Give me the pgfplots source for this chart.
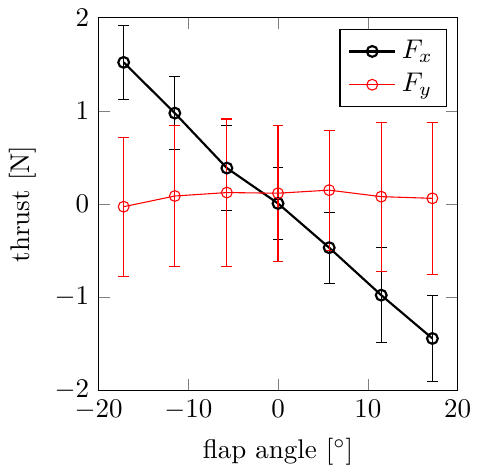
\documentclass[border=0pt]{standalone}
\usepackage{pgfplots}
\pgfplotsset{compat=1.18}
\begin{document}
\begin{tikzpicture}
\begin{axis}[
  scale only axis,
  width=133pt, height=138pt,
  xmin=-20, xmax=20, ymin=-2, ymax=2,
  xtick={-20,-10,0,10,20},
  ytick={-2,-1,0,1,2},
  xlabel={flap angle [$^\circ$]},
  ylabel={thrust [N]},
  legend pos=north east,
  legend cell align=left,
]
\addplot+[black, thick, mark=o, mark options={black, solid},
  error bars/.cd, y dir=both, y explicit,
  error bar style={black, thin}]
  coordinates {
  (-17.2, 1.52) +- (0, 0.40)
  (-11.5, 0.975) +- (0, 0.395)
  (-5.7, 0.385) +- (0, 0.46)
  (0, 0.005) +- (0, 0.39)
  (5.7, -0.47) +- (0, 0.38)
  (11.5, -0.98) +- (0, 0.51)
  (17.2, -1.445) +- (0, 0.46)
  };
\addlegendentry{$F_x$}
\addplot+[red, mark=o, mark options={red, solid},
  error bars/.cd, y dir=both, y explicit,
  error bar style={red}]
  coordinates {
  (-17.2, -0.03) +- (0, 0.745)
  (-11.5, 0.085) +- (0, 0.757)
  (-5.7, 0.122) +- (0, 0.79)
  (0, 0.115) +- (0, 0.73)
  (5.7, 0.148) +- (0, 0.645)
  (11.5, 0.078) +- (0, 0.80)
  (17.2, 0.06) +- (0, 0.815)
  };
\addlegendentry{$F_y$}
\end{axis}
\end{tikzpicture}
\end{document}
